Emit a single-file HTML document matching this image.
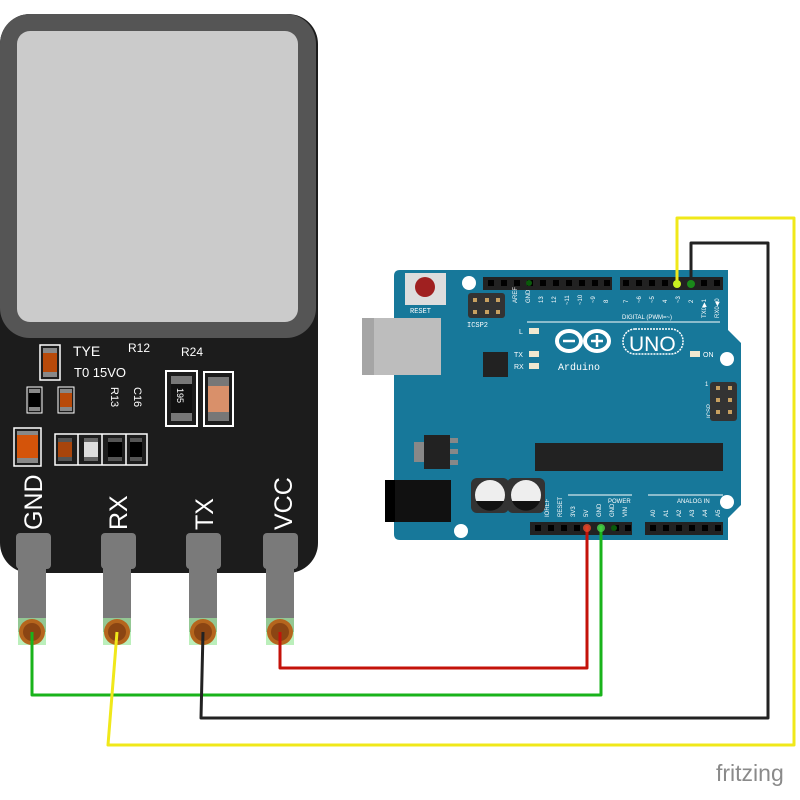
<!DOCTYPE html>
<html><head><meta charset="utf-8"><style>
html,body{margin:0;padding:0;background:#fff;width:800px;height:800px;overflow:hidden}
svg{display:block}
text{font-family:"Liberation Sans",sans-serif}
.m{font-family:"Liberation Mono",monospace;fill:#fff}
</style></head><body>
<svg width="800" height="800" viewBox="0 0 800 800" xmlns="http://www.w3.org/2000/svg">
<rect x="0" y="14" width="318" height="559" rx="30" fill="#1c1c1c"/>
<rect x="0" y="14" width="316" height="324" rx="30" fill="#555"/>
<rect x="17" y="31" width="281" height="291" rx="13" fill="#cbcbcb"/>
<text x="73" y="356" font-size="14" fill="#fff">TYE</text>
<text x="128" y="352" font-size="12" fill="#fff">R12</text>
<text x="181" y="356" font-size="12" fill="#fff">R24</text>
<text x="74" y="377" font-size="13" fill="#fff">T0 15VO</text>
<text font-size="11" fill="#fff" transform="translate(111,387) rotate(90)">R13</text>
<text font-size="11" fill="#fff" transform="translate(134,387) rotate(90)">C16</text>
<rect x="40" y="345" width="20" height="35" fill="none" stroke="#fff" stroke-width="1.5"/>
<rect x="43" y="348" width="14" height="29" fill="#888"/><rect x="43" y="353" width="14" height="19" fill="#b84a0a"/>
<rect x="27" y="387" width="15" height="26" fill="none" stroke="#fff" stroke-width="1"/>
<rect x="29" y="389" width="11" height="22" fill="#888"/><rect x="29" y="393" width="11" height="14" fill="#000"/>
<rect x="58" y="387" width="16" height="26" fill="none" stroke="#fff" stroke-width="1"/>
<rect x="60" y="389" width="12" height="22" fill="#888"/><rect x="60" y="393" width="12" height="14" fill="#b84a0a"/>
<rect x="14" y="428" width="27" height="38" fill="none" stroke="#fff" stroke-width="1.5"/>
<rect x="17" y="431" width="21" height="32" fill="#888"/><rect x="17" y="435" width="21" height="23" fill="#d4540a"/>
<rect x="55" y="434" width="92" height="31" fill="none" stroke="#fff" stroke-width="1.5"/>
<line x1="78" y1="434" x2="78" y2="465" stroke="#fff" stroke-width="1.5"/>
<line x1="102" y1="434" x2="102" y2="465" stroke="#fff" stroke-width="1.5"/>
<line x1="126" y1="434" x2="126" y2="465" stroke="#fff" stroke-width="1.5"/>
<rect x="58" y="438" width="14" height="23" fill="#555"/><rect x="58" y="442" width="14" height="15" fill="#a8450c"/>
<rect x="84" y="438" width="14" height="23" fill="#666"/><rect x="84" y="442" width="14" height="15" fill="#ddd"/>
<rect x="108" y="438" width="14" height="23" fill="#555"/><rect x="108" y="442" width="14" height="15" fill="#000"/>
<rect x="130" y="438" width="12" height="23" fill="#555"/><rect x="130" y="442" width="12" height="15" fill="#000"/>
<rect x="166" y="371" width="31" height="55" fill="none" stroke="#fff" stroke-width="2"/>
<rect x="171" y="376" width="21" height="45" fill="#777"/><rect x="171" y="384" width="21" height="29" fill="#111"/>
<text font-size="9" fill="#fff" transform="translate(177,388) rotate(90)">195</text>
<rect x="204" y="372" width="29" height="54" fill="none" stroke="#fff" stroke-width="2"/>
<rect x="208" y="377" width="21" height="44" fill="#777"/><rect x="208" y="386" width="21" height="26" fill="#d9906a"/>
<g font-size="25" fill="#fff">
<text transform="translate(42,530) rotate(-90)">GND</text>
<text transform="translate(127,530) rotate(-90)">RX</text>
<text transform="translate(213,530) rotate(-90)">TX</text>
<text transform="translate(292,530) rotate(-90)">VCC</text>
</g>
<g fill="#7a7a7a">
<rect x="16" y="533" width="35" height="36" rx="4"/><rect x="18" y="560" width="28" height="72"/>
<rect x="101" y="533" width="35" height="36" rx="4"/><rect x="103" y="560" width="28" height="72"/>
<rect x="186" y="533" width="35" height="36" rx="4"/><rect x="189" y="560" width="28" height="72"/>
<rect x="263" y="533" width="35" height="36" rx="4"/><rect x="266" y="560" width="28" height="72"/>
</g>
<g>
<rect x="18" y="618" width="28" height="27" fill="#9ee89e" opacity=".7"/>
<rect x="103" y="618" width="28" height="27" fill="#9ee89e" opacity=".7"/>
<rect x="189" y="618" width="28" height="27" fill="#9ee89e" opacity=".7"/>
<rect x="266" y="618" width="28" height="27" fill="#9ee89e" opacity=".7"/>
<circle cx="32" cy="632" r="13" fill="#b5651d"/><circle cx="32" cy="632" r="9" fill="#8b4513"/>
<circle cx="117" cy="632" r="13" fill="#b5651d"/><circle cx="117" cy="632" r="9" fill="#8b4513"/>
<circle cx="203" cy="632" r="13" fill="#b5651d"/><circle cx="203" cy="632" r="9" fill="#8b4513"/>
<circle cx="280" cy="632" r="13" fill="#b5651d"/><circle cx="280" cy="632" r="9" fill="#8b4513"/>
</g>
<path d="M400,270 L728,270 L728,330 L741,343 L741,505 L728,518 L728,540 L400,540 Q394,540 394,534 L394,276 Q394,270 400,270 Z" fill="#17789a"/>
<rect x="362" y="318" width="79" height="57" fill="#bdbdbd"/>
<rect x="362" y="318" width="12" height="57" fill="#a5a5a5"/>
<rect x="405" y="273" width="41" height="32" fill="#ddd"/>
<circle cx="425" cy="287" r="10" fill="#a02020"/>
<text x="410" y="313" font-size="7" class="m">RESET</text>
<circle cx="469" cy="283" r="7" fill="#fff"/>
<circle cx="727" cy="359" r="7" fill="#fff"/>
<circle cx="727" cy="502" r="7" fill="#fff"/>
<circle cx="461" cy="531" r="7" fill="#fff"/>
<rect x="468" y="293" width="37" height="25" rx="3" fill="#333"/>
<g fill="#c8a060"><rect x="473" y="298" width="4" height="4"/><rect x="485" y="298" width="4" height="4"/><rect x="496" y="298" width="4" height="4"/><rect x="473" y="310" width="4" height="4"/><rect x="485" y="310" width="4" height="4"/><rect x="496" y="310" width="4" height="4"/></g>
<text x="467" y="327" font-size="7" class="m">ICSP2</text>
<rect x="483" y="277" width="129" height="13" fill="#222"/>
<rect x="620" y="277" width="103" height="13" fill="#222"/>
<rect x="530" y="522" width="102" height="13" fill="#222"/>
<rect x="645" y="522" width="78" height="13" fill="#222"/>
<g fill="#000">
<rect x="488" y="280" width="6" height="6"/><rect x="501" y="280" width="6" height="6"/><rect x="514" y="280" width="6" height="6"/><rect x="527" y="280" width="6" height="6"/><rect x="540" y="280" width="6" height="6"/><rect x="553" y="280" width="6" height="6"/><rect x="566" y="280" width="6" height="6"/><rect x="579" y="280" width="6" height="6"/><rect x="592" y="280" width="6" height="6"/><rect x="604" y="280" width="6" height="6"/>
<rect x="623" y="280" width="6" height="6"/><rect x="636" y="280" width="6" height="6"/><rect x="649" y="280" width="6" height="6"/><rect x="662" y="280" width="6" height="6"/><rect x="701" y="280" width="6" height="6"/><rect x="714" y="280" width="6" height="6"/>
<rect x="535" y="525" width="6" height="6"/><rect x="548" y="525" width="6" height="6"/><rect x="561" y="525" width="6" height="6"/><rect x="574" y="525" width="6" height="6"/><rect x="613" y="525" width="6" height="6"/><rect x="625" y="525" width="6" height="6"/>
<rect x="650" y="525" width="6" height="6"/><rect x="663" y="525" width="6" height="6"/><rect x="676" y="525" width="6" height="6"/><rect x="689" y="525" width="6" height="6"/><rect x="702" y="525" width="6" height="6"/><rect x="715" y="525" width="6" height="6"/>
</g>
<g class="m" font-size="6">
<text transform="translate(517,303) rotate(-90)">AREF</text><text transform="translate(530,303) rotate(-90)">GND</text>
<text transform="translate(543,303) rotate(-90)">13</text><text transform="translate(556,303) rotate(-90)">12</text>
<text transform="translate(569,305) rotate(-90)">~11</text><text transform="translate(582,305) rotate(-90)">~10</text>
<text transform="translate(595,303) rotate(-90)">~9</text><text transform="translate(608,303) rotate(-90)">8</text>
<text transform="translate(628,303) rotate(-90)">7</text><text transform="translate(641,303) rotate(-90)">~6</text>
<text transform="translate(654,303) rotate(-90)">~5</text><text transform="translate(667,303) rotate(-90)">4</text>
<text transform="translate(680,303) rotate(-90)">~3</text><text transform="translate(693,303) rotate(-90)">2</text>
<text transform="translate(706,318) rotate(-90)">TX0▶1</text><text transform="translate(719,318) rotate(-90)">RX0◀0</text>
<text x="622" y="319">DIGITAL (PWM=~)</text>
<text transform="translate(549,517) rotate(-90)">IOREF</text><text transform="translate(562,517) rotate(-90)">RESET</text>
<text transform="translate(575,517) rotate(-90)">3V3</text><text transform="translate(588,517) rotate(-90)">5V</text>
<text transform="translate(601,517) rotate(-90)">GND</text><text transform="translate(614,517) rotate(-90)">GND</text>
<text transform="translate(627,517) rotate(-90)">VIN</text>
<text x="608" y="503">POWER</text><text x="677" y="503">ANALOG IN</text>
<text transform="translate(655,517) rotate(-90)">A0</text><text transform="translate(668,517) rotate(-90)">A1</text>
<text transform="translate(681,517) rotate(-90)">A2</text><text transform="translate(694,517) rotate(-90)">A3</text>
<text transform="translate(707,517) rotate(-90)">A4</text><text transform="translate(720,517) rotate(-90)">A5</text>
<text transform="translate(711,418) rotate(-90)">ICSP</text><text x="705" y="386">1</text>
</g>
<line x1="527" y1="322" x2="720" y2="322" stroke="#fff" stroke-width="1"/>
<line x1="568" y1="495" x2="632" y2="495" stroke="#fff" stroke-width="1"/>
<line x1="648" y1="495" x2="723" y2="495" stroke="#fff" stroke-width="1"/>
<g fill="none" stroke="#fff" stroke-width="4">
<ellipse cx="569" cy="341" rx="12" ry="10"/><ellipse cx="597" cy="341" rx="12" ry="10"/>
</g>
<g stroke="#fff" stroke-width="2.5"><line x1="563" y1="341" x2="575" y2="341"/><line x1="591" y1="341" x2="603" y2="341"/><line x1="597" y1="335" x2="597" y2="347"/></g>
<rect x="623" y="329" width="60" height="25" rx="12" fill="none" stroke="#fff" stroke-width="1.5" stroke-dasharray="2 1"/>
<text x="629" y="351" font-size="21" fill="#fff">UNO</text>
<text x="558" y="370" font-size="10" class="m">Arduino</text>
<g fill="#f0e8d0"><rect x="529" y="328" width="10" height="6"/><rect x="529" y="351" width="10" height="6"/><rect x="529" y="363" width="10" height="6"/><rect x="690" y="351" width="10" height="6"/></g>
<g class="m" font-size="7"><text x="519" y="334">L</text><text x="514" y="357">TX</text><text x="514" y="369">RX</text><text x="703" y="357">ON</text></g>
<rect x="483" y="352" width="25" height="25" fill="#222"/>
<rect x="710" y="382" width="27" height="39" rx="3" fill="#333"/>
<g fill="#c8a060"><rect x="716" y="386" width="4" height="4"/><rect x="728" y="386" width="4" height="4"/><rect x="716" y="398" width="4" height="4"/><rect x="728" y="398" width="4" height="4"/><rect x="716" y="410" width="4" height="4"/><rect x="728" y="410" width="4" height="4"/></g>
<rect x="535" y="443" width="188" height="28" fill="#222"/>
<rect x="414" y="442" width="10" height="20" fill="#888"/>
<rect x="424" y="435" width="26" height="34" fill="#222"/>
<g fill="#888"><rect x="450" y="438" width="8" height="5"/><rect x="450" y="449" width="8" height="5"/><rect x="450" y="460" width="8" height="5"/></g>
<rect x="385" y="480" width="66" height="42" fill="#111"/>
<rect x="385" y="480" width="10" height="42" fill="#000"/>
<rect x="471" y="478" width="38" height="35" rx="6" fill="#333"/>
<circle cx="490" cy="495" r="15" fill="#eee"/><path d="M476,501 A15,15 0 0 0 504,501 Z" fill="#111"/>
<rect x="507" y="478" width="38" height="35" rx="6" fill="#333"/>
<circle cx="526" cy="495" r="15" fill="#eee"/><path d="M512,501 A15,15 0 0 0 540,501 Z" fill="#111"/>
<g fill="none" stroke-width="3" stroke-linejoin="round">
<polyline points="32,632 32,695 601,695 601,526" stroke="#19b31b"/>
<polyline points="280,632 280,668 587,668 587,526" stroke="#c4120a"/>
<polyline points="203,632 201,718 768,718 768,243 691,243 691,284" stroke="#222"/>
<polyline points="117,632 108,745 794,745 794,218 677,218 677,284" stroke="#f0e81a"/>
</g>
<circle cx="587" cy="528" r="4" fill="#e84a2a" opacity=".8"/>
<circle cx="601" cy="528" r="4" fill="#4ad84a" opacity=".8"/>
<circle cx="614" cy="528" r="3" fill="#0a5a0a"/>
<circle cx="529" cy="283" r="3" fill="#0a5a0a"/>
<circle cx="677" cy="284" r="4" fill="#c8f020"/>
<circle cx="691" cy="284" r="4" fill="#1a8a1a"/>
<text x="716" y="781" font-size="23" fill="#8a8a8a" font-family="DejaVu Sans,sans-serif">fritzing</text>
</svg>
</body></html>
